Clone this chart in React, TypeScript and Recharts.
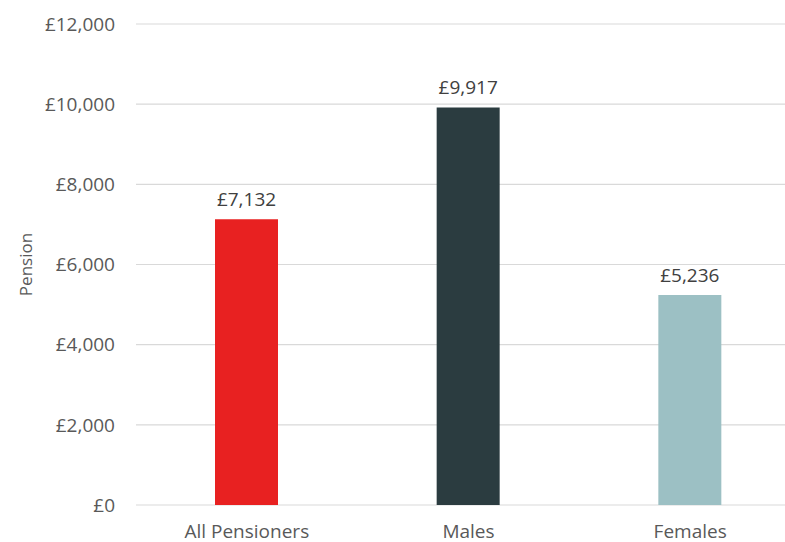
import React from "react";
import { BarChart, Bar, XAxis, YAxis, CartesianGrid, Cell, LabelList, Label } from "recharts";

const categories = ["All Pensioners", "Males", "Females"];
const pensionValues = [7132, 9917, 5236];
const barColors = ["#E82121", "#2B3C40", "#9CC0C4"];
const yTicks = [0, 2000, 4000, 6000, 8000, 10000, 12000];
const yAxisTitle = "Pension";

const data = categories.map((name, i) => ({ name, value: pensionValues[i] }));

const fmt = (v: number) => "£" + v.toLocaleString("en-GB");
const FONT = "'Open Sans', 'DejaVu Sans', sans-serif";

export default function App() {
  return (
    <div
      style={{
        position: "fixed",
        left: 0,
        top: 0,
        width: 785,
        height: 542,
        overflow: "hidden",
        background: "#ffffff",
        fontFamily: FONT,
      }}
    >
      <BarChart
        width={801}
        height={542}
        data={data}
        margin={{ top: 24, right: 0, bottom: 0, left: 0 }}
      >
        <CartesianGrid vertical={false} stroke="#d9d9d9" strokeWidth={1.2} />
        <XAxis
          dataKey="name"
          axisLine={false}
          tickLine={false}
          tickSize={0}
          tickMargin={20}
          height={37}
          tick={{ fill: "#595959", fontSize: 19, fontFamily: FONT }}
        />
        <YAxis
          width={136}
          domain={[0, 12000]}
          ticks={yTicks}
          axisLine={false}
          tickLine={false}
          tickSize={0}
          tickMargin={21}
          tickFormatter={fmt}
          tick={{ fill: "#595959", fontSize: 19, fontFamily: FONT }}
        >
          <Label
            content={(props: any) => {
              const vb = props.viewBox || {};
              const x = 25;
              const y = (vb.y ?? 24) + (vb.height ?? 481) / 2;
              return (
                <text
                  x={x}
                  y={y}
                  transform={`rotate(-90 ${x} ${y})`}
                  textAnchor="middle"
                  dominantBaseline="central"
                  fill="#595959"
                  fontSize={17}
                  fontFamily={FONT}
                >
                  {yAxisTitle}
                </text>
              );
            }}
          />
        </YAxis>
        <Bar dataKey="value" barSize={63} isAnimationActive={false}>
          {data.map((d, i) => (
            <Cell key={d.name} fill={barColors[i]} />
          ))}
          <LabelList
            dataKey="value"
            position="top"
            offset={13}
            formatter={(v: any) => fmt(Number(v))}
            style={{ fill: "#404040", fontSize: 19, fontFamily: FONT }}
          />
        </Bar>
      </BarChart>
    </div>
  );
}
